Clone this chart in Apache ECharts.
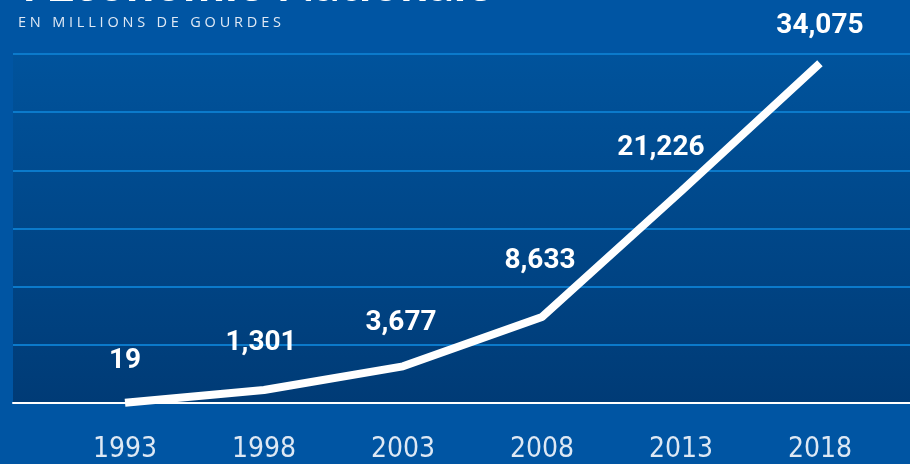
<!DOCTYPE html>
<html>
<head>
<meta charset="utf-8">
<script src="https://cdn.jsdelivr.net/npm/echarts@6/dist/echarts.min.js"></script>
<style>
  html, body { margin: 0; padding: 0; background: #0055a3; }
  #wrap { position: relative; width: 910px; height: 464px; overflow: hidden; }
  #chart { width: 910px; height: 464px; }
  #subtitle {
    position: absolute; left: 18px; top: 12px;
    font-family: 'Open Sans', 'Noto Sans', sans-serif; font-size: 14.5px;
    letter-spacing: 3.8px; color: #dfe9f5; white-space: nowrap;
  }
</style>
</head>
<body>
<div id="wrap">
  <div id="chart"></div>
  <div id="subtitle">EN MILLIONS DE GOURDES</div>
</div>
<script>
const years = [1993, 1998, 2003, 2008, 2013, 2018];
const values = [19, 1301, 3677, 8633, 21226, 34075];
const valueLabels = ['19', '1,301', '3,677', '8,633', '21,226', '34,075'];
// nudges for the value labels [dx, dy]
const labelNudge = [[0, 2], [-3, -4], [-2, 0], [-2, -12], [-20, 0], [0, 6]];

const chart = echarts.init(document.getElementById('chart'));

const option = {
  backgroundColor: '#0055a3',
  animation: false,
  title: {
    text: "l'Économie Nationale",
    left: 18,
    top: -45,
    textStyle: {
      color: '#ffffff',
      fontFamily: 'Lato, sans-serif',
      fontWeight: 'bold',
      fontSize: 50,
    },
  },
  grid: {
    left: 13,
    right: 0,
    top: 54,
    bottom: 60,
    show: true,
    borderWidth: 0,
    backgroundColor: new echarts.graphic.LinearGradient(0, 0, 0, 1, [
      { offset: 0, color: '#00539c' },
      { offset: 1, color: '#003b76' },
    ]),
  },
  xAxis: {
    type: 'value',
    min: 1988.97,
    max: 2021.24,
    axisLine: {
      show: true,
      onZero: false,
      lineStyle: { color: '#ffffff', width: 2 },
    },
    axisTick: { show: false },
    splitLine: { show: false },
    axisLabel: {
      customValues: years,
      formatter: (v) => String(v),
      alignMinLabel: 'center',
      alignMaxLabel: 'center',
      hideOverlap: false,
      color: '#dde8f4',
      fontFamily: "'Liberation Sans Narrow', 'DejaVu Sans Condensed', sans-serif",
      fontSize: 28,
      margin: 33,
    },
  },
  yAxis: {
    type: 'value',
    min: 0,
    max: 35000,
    interval: 35000 / 6,
    axisLine: { show: false },
    axisTick: { show: false },
    axisLabel: { show: false },
    splitLine: {
      show: true,
      lineStyle: { color: '#0b7acb', width: 2 },
    },
  },
  series: [
    {
      type: 'line',
      clip: false,
      symbol: 'circle',
      symbolSize: 1,
      showSymbol: true,
      itemStyle: { color: 'rgba(255,255,255,0)' },
      lineStyle: { color: '#ffffff', width: 8, cap: 'butt' },
      data: years.map((y, i) => ({
        value: [y, values[i]],
        label: {
          show: true,
          position: 'top',
          distance: 28,
          offset: labelNudge[i],
          formatter: valueLabels[i],
          color: '#ffffff',
          fontFamily: 'Roboto, sans-serif',
          fontWeight: 'bold',
          fontSize: 28,
          lineHeight: 30,
        },
      })),
    },
  ],
};

chart.setOption(option);
</script>
</body>
</html>
